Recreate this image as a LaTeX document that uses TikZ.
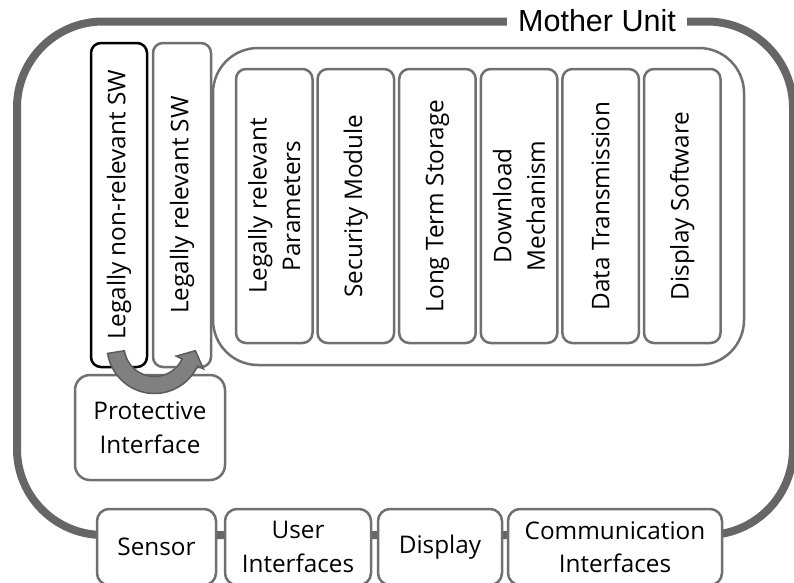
\documentclass[tikz,border=0pt]{standalone}
\usepackage{fontspec}
\setmainfont{Open Sans}
\newfontfamily\arialf{Liberation Sans}
\usetikzlibrary{calc}
\definecolor{framegray}{RGB}{102,102,102}
\definecolor{boxgray}{RGB}{112,112,112}
\definecolor{arrowfill}{RGB}{128,128,128}
\definecolor{arrowline}{RGB}{90,90,90}
\tikzset{
  lbl/.style={font=\fontsize{24.3}{33.5}\selectfont, align=center, text=black},
  gbox/.style={lbl, draw=boxgray, line width=2.5pt, fill=white, rounded corners=10pt, inner sep=0pt},
  vbox/.style={gbox, rotate=90},
}
\begin{document}
\begin{tikzpicture}[x=1pt,y=-1pt]
\useasboundingbox (0,0) rectangle (794,582);
\clip (0,0) rectangle (794,582);
% outer frame
\draw[draw=framegray, line width=8pt, rounded corners=86pt] (17,21.5) rectangle (793,535);
\node[font=\arialf\fontsize{30.5}{31}\selectfont, fill=white, inner xsep=11pt, inner ysep=2pt] (mother) at (597,21) {Mother Unit};
% inner container
\node[draw=boxgray, line width=2.5pt, rounded corners=45pt, minimum width=531pt, minimum height=317pt, inner sep=0pt] (inner) at (478.5,206.5) {};
% left SW boxes
\node[vbox, draw=black, minimum width=324pt, minimum height=56pt] (nonrel) at (119,205) {Legally non-relevant SW};
\node[vbox, minimum width=324pt, minimum height=58pt] (rel) at (182,205) {Legally relevant SW};
% inner boxes
\node[vbox, minimum width=274pt, minimum height=76.5pt] (params) at (274.25,206) {Legally relevant\\Parameters};
\node[vbox, minimum width=274pt, minimum height=76.5pt] (secmod) at (355.85,206) {Security Module};
\node[vbox, minimum width=274pt, minimum height=76.5pt] (lts) at (437.45,206) {Long Term Storage};
\node[vbox, minimum width=274pt, minimum height=76.5pt] (dlm) at (519.05,206) {Download\\Mechanism};
\node[vbox, minimum width=274pt, minimum height=76.5pt] (dtx) at (600.65,206) {Data Transmission};
\node[vbox, minimum width=274pt, minimum height=76.5pt] (dsw) at (682.25,206) {Display Software};
% protective interface
\node[gbox, rounded corners=15pt, minimum width=150pt, minimum height=105pt] (prot) at (150,427.5) {Protective\\Interface};
% bottom boxes
\node[gbox, rounded corners=12pt, minimum width=119pt, minimum height=76pt] (sensor) at (156.5,547) {Sensor};
\node[gbox, rounded corners=12pt, minimum width=146pt, minimum height=76pt] (ui) at (298,547) {User\\Interfaces};
\node[gbox, rounded corners=12pt, minimum width=124pt, minimum height=76pt] (disp) at (440,547) {Display};
\node[gbox, rounded corners=12pt, minimum width=214pt, minimum height=76pt] (comm) at (615,547) {Communication\\Interfaces};
% curved block arrow
\coordinate (C) at (154.5,346);
\filldraw[fill=arrowfill, draw=arrowline, line width=1.5pt, line join=miter]
  ($(C)+(189:47.5pt)$) arc[start angle=189, end angle=335, radius=47.5pt]
  -- ($(C)+(335:54pt)$)
  -- ($(C)+(335:39pt)+(65:13pt)$)
  -- ($(C)+(335:24pt)$)
  -- ($(C)+(335:30.5pt)$) arc[start angle=335, end angle=189, radius=30.5pt]
  -- cycle;
\end{tikzpicture}
\end{document}
